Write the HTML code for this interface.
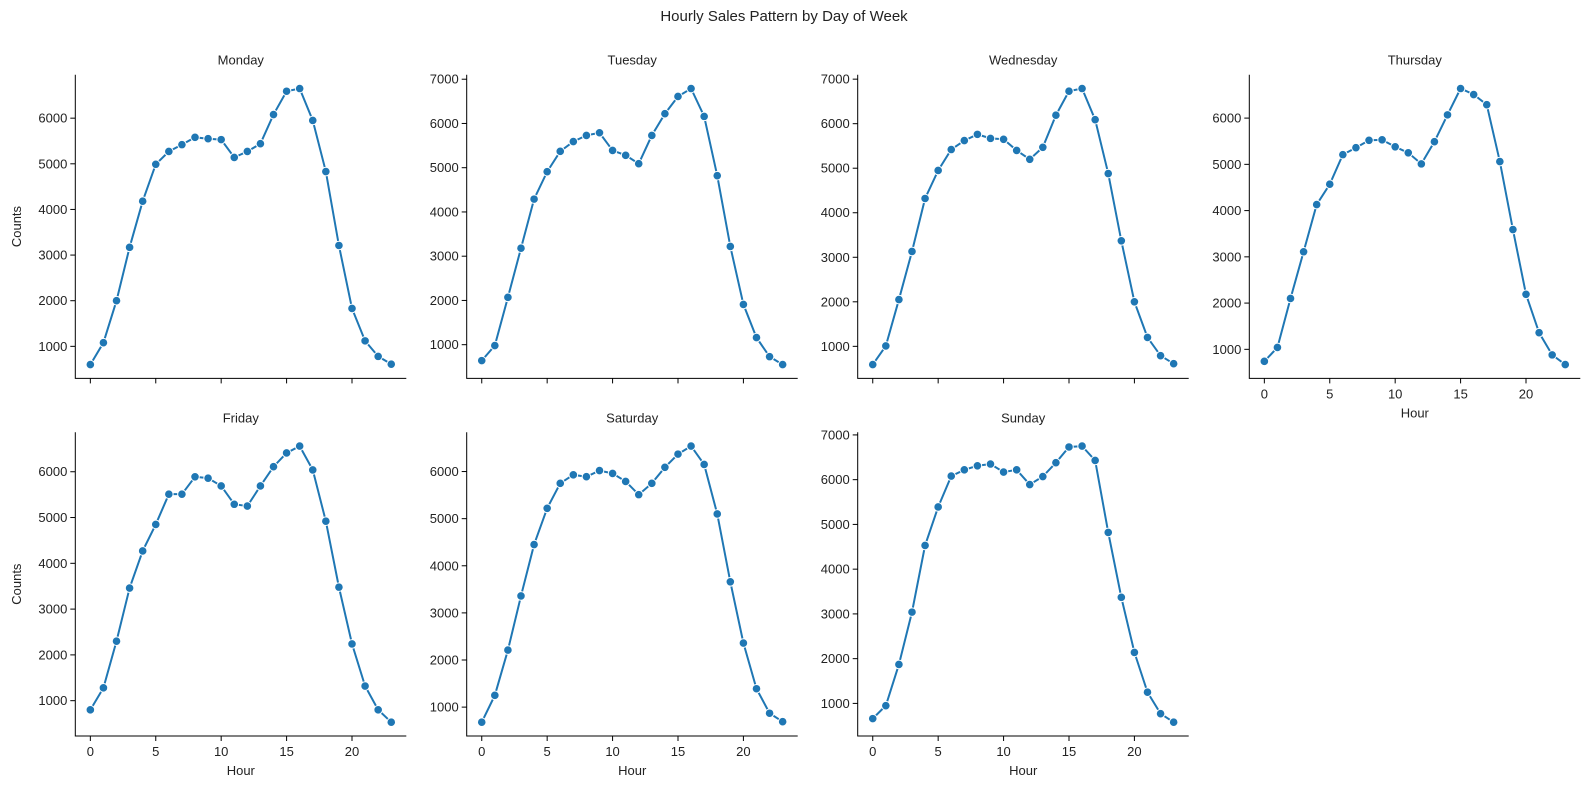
<!DOCTYPE html>
<html><head><meta charset="utf-8"><style>
body{margin:0;background:#fff}
svg text{font-family:"Liberation Sans","DejaVu Sans",sans-serif;fill:#222}
</style></head><body>
<svg id="chart" width="1589" height="789" viewBox="0 0 1589 789" xmlns="http://www.w3.org/2000/svg">
<rect width="1589" height="789" fill="#fff"/>
<text x="784" y="21" font-size="15" text-anchor="middle">Hourly Sales Pattern by Day of Week</text>
</svg>
<script>
const days = ["Monday","Tuesday","Wednesday","Thursday","Friday","Saturday","Sunday"];
const hours = [0,1,2,3,4,5,6,7,8,9,10,11,12,13,14,15,16,17,18,19,20,21,22,23];
const xTicks = [0,5,10,15,20];
const monday = [600,1080,2000,3170,4180,4990,5270,5420,5580,5550,5530,5140,5270,5440,6080,6590,6650,5950,4830,3210,1830,1120,780,610];
const tuesday = [640,980,2070,3180,4290,4910,5370,5590,5730,5790,5390,5280,5090,5730,6220,6610,6790,6160,4820,3220,1910,1160,730,550];
const wednesday = [590,1010,2050,3130,4320,4950,5420,5620,5760,5670,5650,5400,5200,5470,6190,6730,6790,6090,4880,3370,2000,1200,790,610];
const thursday = [740,1040,2100,3110,4130,4570,5210,5360,5520,5530,5380,5250,5010,5490,6070,6640,6510,6290,5060,3590,2190,1360,880,670];
const friday = [800,1280,2300,3460,4270,4850,5510,5510,5890,5860,5690,5290,5250,5690,6110,6410,6560,6040,4920,3480,2240,1320,800,530];
const saturday = [680,1250,2210,3360,4450,5220,5750,5930,5890,6020,5960,5790,5510,5750,6090,6370,6540,6150,5100,3660,2360,1390,870,690];
const sunday = [660,950,1870,3040,4530,5390,6080,6220,6310,6350,6170,6220,5890,6070,6380,6730,6750,6430,4820,3370,2140,1250,770,580];
const series = [monday,tuesday,wednesday,thursday,friday,saturday,sunday];

const NS="http://www.w3.org/2000/svg";
const svg=document.getElementById('chart');
function mk(tag,attrs,parent){const e=document.createElementNS(NS,tag);for(const k in attrs)e.setAttribute(k,attrs[k]);(parent||svg).appendChild(e);return e;}
const lefts=[75.3,466.7,857.7,1249.3], tops=[74.7,432.3], W=331, H=303.7;
series.forEach((vals,i)=>{
  const col=i%4,row=Math.floor(i/4);
  const L=lefts[col],T=tops[row],B=T+H,R=L+W;
  const g=mk('g',{});
  
  
  const mn=Math.min(...vals),mx=Math.max(...vals),pad=(mx-mn)*0.05;
  const y0=mn-pad,y1=mx+pad;
  const xs=h=>L+(h+1.15)/25.3*W;
  const ys=v=>B-(v-y0)/(y1-y0)*H;
  // spines
  const sp=mk('path',{d:`M${L},${T}V${B}H${R}`,stroke:'#000','stroke-width':1,fill:'none'},g);
  
  
  // y ticks
  for(let v=Math.ceil(y0/1000)*1000;v<=y1;v+=1000){
    const y=ys(v);
    mk('line',{x1:L-5,x2:L,y1:y,y2:y,stroke:'#000','stroke-width':1},g);
    const t=mk('text',{x:L-8,y:y+4.5,'font-size':13,'text-anchor':'end'},g);
    
    
    t.textContent=v;
  }
  const showX = row===1 || col===3;
  xTicks.forEach(h=>{
    const x=xs(h);
    mk('line',{x1:x,x2:x,y1:B,y2:B+5,stroke:'#000','stroke-width':1},g);
    if(showX){
      const t=mk('text',{x:x,y:B+20,'font-size':13,'text-anchor':'middle'},g);
      
      
      t.textContent=h;
    }
  });
  if(showX){
    const t=mk('text',{x:L+W/2,y:B+39,'font-size':13,'text-anchor':'middle'},g);
    
    
    t.textContent='Hour';
  }
  if(col===0){
    const cy=T+H/2;
    const t=mk('text',{x:21,y:cy,'font-size':13,'text-anchor':'middle',transform:`rotate(-90 21 ${cy})`},g);
    
    
    t.textContent='Counts';
  }
  const tt=mk('text',{x:L+W/2,y:T-10,'font-size':13,'text-anchor':'middle'},g);
  
  
  tt.textContent=days[i];
  const d=hours.map((h,k)=>(k?'L':'M')+xs(h).toFixed(2)+','+ys(vals[k]).toFixed(2)).join('');
  const ln=mk('path',{d:d,stroke:'#1f77b4','stroke-width':2,fill:'none'},g);
  
  
  hours.forEach((h,k)=>{
    const c=mk('circle',{cx:xs(h),cy:ys(vals[k]),r:4.3,fill:'#1f77b4',stroke:'#fff','stroke-width':1},g);
    
    
  });
});
</script>
</body></html>
